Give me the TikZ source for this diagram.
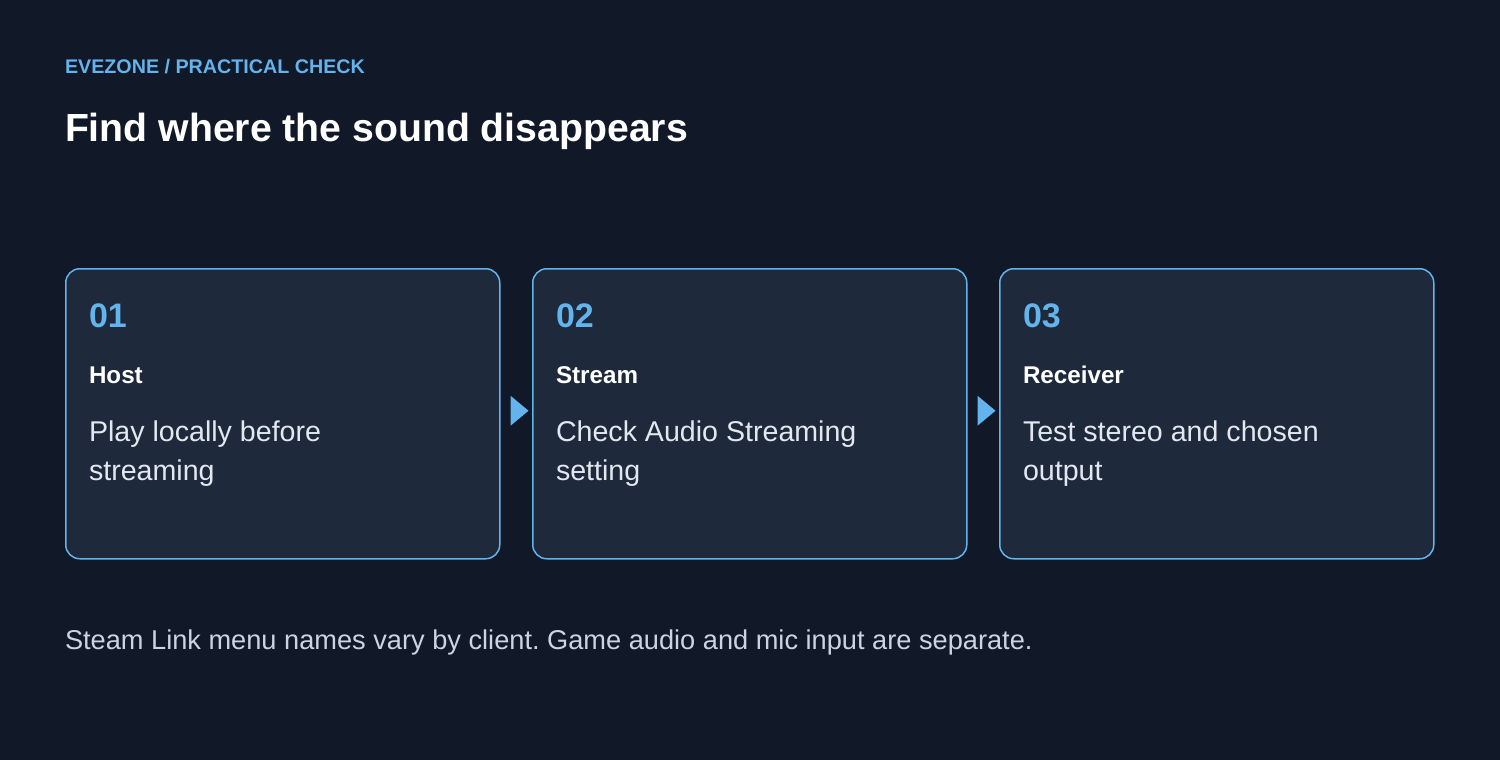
\documentclass[tikz,border=0pt]{standalone}
\usepackage{fontspec}
\setmainfont{Liberation Sans}
\usetikzlibrary{calc}
\frenchspacing
\definecolor{bg}{HTML}{111827}
\definecolor{cardfill}{HTML}{1E293B}
\definecolor{accent}{HTML}{63B3ED}
\definecolor{bodytext}{HTML}{E2E8F0}
\definecolor{foot}{HTML}{CBD5E1}
\tikzset{
  card/.style={draw=accent, line width=1.5pt, fill=cardfill, rounded corners=14pt,
    minimum width=434pt, minimum height=290pt, inner sep=0pt, anchor=north west},
  txt/.style={anchor=base west, inner sep=0pt, outer sep=0pt},
  num/.style={txt, text=accent, font=\fontsize{34}{40}\selectfont\bfseries},
  ctitle/.style={txt, text=white, font=\fontsize{24.2}{28}\selectfont\bfseries},
  cbody/.style={txt, text=bodytext, font=\fontsize{28.6}{39}\selectfont, align=left},
  flow/.style={fill=accent},
}
\begin{document}
\begin{tikzpicture}[x=1pt,y=-1pt]
\fill[bg] (0,0) rectangle (1500,760);
\useasboundingbox (0,0) rectangle (1500,760);
\node[txt, text=accent, font=\fontsize{19.7}{24}\selectfont\bfseries] (kicker) at (65,74) {EVEZONE / PRACTICAL CHECK};
\node[txt, text=white, font=\fontsize{39.2}{44}\selectfont\bfseries] (title) at (65,141) {Find where the sound disappears};

\node[card] (c1) at (65,268) {};
\node[card] (c2) at (532,268) {};
\node[card] (c3) at (999,268) {};

\foreach \c/\n/\t/\a/\b in {c1/01/Host/Play locally before/streaming, c2/02/Stream/Check Audio Streaming/setting, c3/03/Receiver/Test stereo and chosen/output}{
  \node[num] (\c n) at ($(\c.north west)+(24,59)$) {\n};
  \node[ctitle] (\c t) at ($(\c.north west)+(24,115)$) {\t};
  \node[cbody] (\c b) at ($(\c.north west)+(24,212)$) {\a\\\b};
}

\fill[flow] ($(c1.east)+(10,-18)$) -- ($(c1.east)+(28,-3)$) -- ($(c1.east)+(10,12)$) -- cycle;
\fill[flow] ($(c2.east)+(10,-18)$) -- ($(c2.east)+(28,-3)$) -- ($(c2.east)+(10,12)$) -- cycle;

\node[txt, text=foot, font=\fontsize{27.2}{30}\selectfont] (footer) at (65,649) {Steam Link menu names vary by client. Game audio and mic input are separate.};
\end{tikzpicture}
\end{document}
